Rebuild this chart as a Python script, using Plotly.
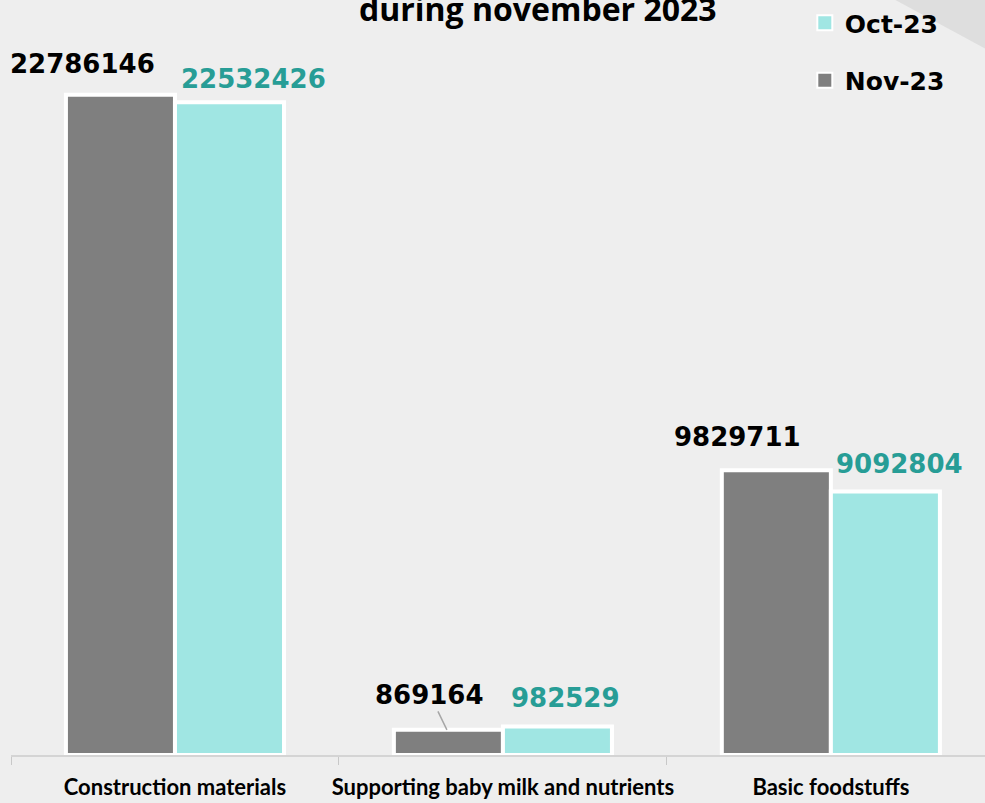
import plotly.graph_objects as go

categories = ["Construction materials", "Supporting baby milk and nutrients", "Basic foodstuffs"]
nov_values = [22786146, 869164, 9829711]
oct_values = [22532426, 982529, 9092804]
series_names = ["Nov-23", "Oct-23"]
title_text = "during november 2023"

GRAY = "#7f7f7f"
CYAN = "#a0e6e3"
TEAL = "#279d96"
BG = "#eeeeee"
LABEL_FONT = "DejaVu Sans"
CAT_FONT = "Lato"
TITLE_FONT = "Open Sans"

fig = go.Figure()
fig.add_trace(go.Bar(
    x=categories, y=nov_values, name=series_names[0],
    marker=dict(color=GRAY, line=dict(color="white", width=4)),
    showlegend=False,
))
fig.add_trace(go.Bar(
    x=categories, y=oct_values, name=series_names[1],
    marker=dict(color=CYAN, line=dict(color="white", width=4)),
    showlegend=False,
))
# legend entries (square swatches)
for name, col, rank, grp in [(series_names[1], CYAN, 1, "oct"), (series_names[0], GRAY, 2, "nov")]:
    fig.add_trace(go.Scatter(
        x=[None], y=[None], mode="markers", name=name,
        marker=dict(symbol="square", size=15, color=col, line=dict(color="white", width=2)),
        legendrank=rank, legendgroup=grp, showlegend=True,
    ))

# value labels (pixel offsets relative to category centre / bar top)
nov_dx = [-92, -56, -93]
nov_dy = [31, 0, 33]
oct_dx = [79, 63, 69]
oct_dy = [23, 29, 28]

annotations = []
for i, cat in enumerate(categories):
    if i == 1:
        annotations.append(dict(
            x=cat, y=nov_values[i], xref="x", yref="y",
            text=f"{nov_values[i]}", showarrow=True, arrowhead=0,
            arrowcolor="#a6a6a6", arrowwidth=1.5, ax=-17, ay=-35,
            xshift=nov_dx[i], standoff=0,
            font=dict(family=LABEL_FONT, size=26, color="black", weight="bold"),
        ))
    else:
        annotations.append(dict(
            x=cat, y=nov_values[i], xref="x", yref="y",
            text=f"{nov_values[i]}", showarrow=False,
            xshift=nov_dx[i], yshift=nov_dy[i], yanchor="middle",
            font=dict(family=LABEL_FONT, size=26, color="black", weight="bold"),
        ))
    annotations.append(dict(
        x=cat, y=oct_values[i], xref="x", yref="y",
        text=f"{oct_values[i]}", showarrow=False,
        xshift=oct_dx[i], yshift=oct_dy[i], yanchor="middle",
        font=dict(family=LABEL_FONT, size=26, color=TEAL, weight="bold"),
    ))

annotations.append(dict(
    x=0.541, y=1.0, xref="paper", yref="paper", yanchor="bottom",
    xanchor="center", yshift=-32, text=title_text, showarrow=False,
    font=dict(family=TITLE_FONT, size=32, color="black", weight="bold"),
))

fig.update_layout(
    width=985, height=803,
    margin=dict(l=11, r=0, t=0, b=48, autoexpand=False),
    paper_bgcolor=BG, plot_bgcolor=BG,
    barmode="group", bargap=0.335, bargroupgap=0,
    showlegend=True,
    legend=dict(
        x=0.815, y=1.0, xanchor="left", yanchor="top",
        bgcolor="rgba(0,0,0,0)", tracegroupgap=22, itemsizing="trace",
        font=dict(family=LABEL_FONT, size=25, color="black", weight="bold"),
    ),
    xaxis=dict(
        range=[-0.5, 2.47], showgrid=False, zeroline=False, automargin=False,
        showline=True, linecolor="#d4d4d4", linewidth=2, tickangle=0,
        ticks="outside", tickson="boundaries", ticklen=8, tickcolor="#c8c8c8",
        tickwidth=1, ticklabelstandoff=12,
        tickfont=dict(family=CAT_FONT, size=22, color="black", weight="bold"),
    ),
    yaxis=dict(range=[0, 26.06e6], visible=False, showgrid=False, zeroline=False,
               automargin=False),
    annotations=annotations,
    shapes=[dict(
        type="path", xref="paper", yref="paper", layer="below",
        path="M 0.908 1.0 L 1.03 1.0 L 1.03 0.915 Z",
        fillcolor="#dedede", line=dict(width=0),
    )],
)

fig.write_html(
    "out.html",
    config={"displayModeBar": False},
    post_script="document.body.style.margin='0';document.body.style.background='#eeeeee';",
)
